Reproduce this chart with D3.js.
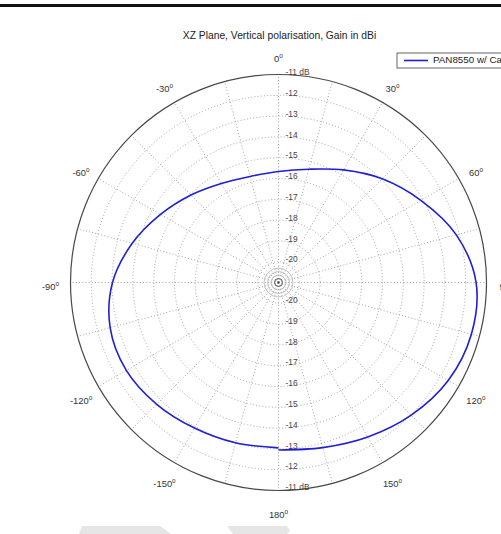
<!DOCTYPE html>
<html>
<head>
<meta charset="utf-8">
<script src="https://cdn.jsdelivr.net/npm/d3@7"></script>
<style>
  html, body { margin: 0; padding: 0; background: #fff; overflow: hidden; }
  svg { display: block; font-family: "Liberation Sans", Arial, sans-serif; }
</style>
</head>
<body>
<svg id="chart" width="501" height="534"></svg>
<script>
// Measured gain pattern (dBi) in the XZ plane, vertical polarisation
const angles = [-180, -165, -150, -135, -120, -105, -90, -75, -60, -45, -30, -15,
                0, 15, 30, 45, 60, 75, 90, 105, 120, 135, 150, 165, 180];
const gain = [-13.05, -13.02, -12.92, -12.72, -12.55, -12.62, -13.02, -13.72, -14.45, -15.05, -15.5, -15.72,
              -15.66, -15.36, -14.75, -13.95, -13.1, -12.15, -11.5, -11.4, -11.58, -11.98, -12.42, -12.78, -12.95];
const seriesName = "PAN8550 w/ Cable";

// Ring levels and angular labels
const ringLevels = [-20, -19, -18, -17, -16, -15, -14, -13, -12, -11];
const ringLabels = ["-20", "-19", "-18", "-17", "-16", "-15", "-14", "-13", "-12", "-11 dB"];
const angleTicks = [0, 30, 60, 90, 120, 150, 180, -150, -120, -90, -60, -30];
const spokeAngles = d3.range(0, 360, 15);

const title = "XZ Plane, Vertical polarisation, Gain in dBi";

const svg = d3.select("#chart");
const cx = 278.5, cy = 282.5, R = 208;

// Radial scale: centre of the plot is -21 dB, outer ring is -11 dB
const r = d3.scaleLinear().domain([-21, -11]).range([0, R]);
const toRad = d => d * Math.PI / 180;

// Top rule
svg.append("rect").attr("x", 0).attr("y", 4).attr("width", 501).attr("height", 3).attr("fill", "#111");

// Light grey shapes along the bottom edge
svg.append("polygon").attr("points", "82,526 160,526 171,534 79,534").attr("fill", "#e6e6e6");
svg.append("polygon").attr("points", "227,526 287,526 290,531 287,534 233,534").attr("fill", "#e6e6e6");

// Title
svg.append("text").attr("x", cx + 1).attr("y", 39).attr("text-anchor", "middle")
  .attr("font-size", 10.3).attr("fill", "#222").text(title);

const g = svg.append("g").attr("transform", `translate(${cx},${cy})`);

// Dotted rings
g.selectAll("circle.ring").data(ringLevels.filter(v => v !== -11)).join("circle")
  .attr("class", "ring").attr("r", d => r(d))
  .attr("fill", "none").attr("stroke", "#999").attr("stroke-width", 0.9)
  .attr("stroke-dasharray", "1,2.2");

// Dotted spokes
g.selectAll("line.spoke").data(spokeAngles).join("line")
  .attr("class", "spoke")
  .attr("x1", 0).attr("y1", 0)
  .attr("x2", d => R * Math.sin(toRad(d)))
  .attr("y2", d => -R * Math.cos(toRad(d)))
  .attr("stroke", "#999").attr("stroke-width", 0.9).attr("stroke-dasharray", "1,2.2");

// Small concentric rings at the centre
[4, 7.5, 11, 14.5].forEach((rr, i) => {
  g.append("circle").attr("r", rr).attr("fill", "none")
    .attr("stroke", i === 0 ? "#555" : "#aaa").attr("stroke-width", i === 0 ? 0.9 : 0.7);
});
g.append("circle").attr("r", 1).attr("fill", "#333");

// Outer ring
g.append("circle").attr("r", r(-11)).attr("fill", "none").attr("stroke", "#484848").attr("stroke-width", 1.2);

// Ring labels along the 0° and 180° axes
const labelData = ringLevels.map((v, i) => ({ v, t: ringLabels[i] }));
g.selectAll("text.rl-top").data(labelData).join("text")
  .attr("class", "rl-top")
  .attr("x", 7).attr("y", d => -r(d.v) - 1.5)
  .attr("dominant-baseline", "middle")
  .attr("font-size", 8.4).attr("fill", "#444").text(d => d.t);
g.selectAll("text.rl-bot").data(labelData).join("text")
  .attr("class", "rl-bot")
  .attr("x", 7).attr("y", d => r(d.v) - 2.5)
  .attr("dominant-baseline", "middle")
  .attr("font-size", 8.4).attr("fill", "#444").text(d => d.t);

// Angular labels
const LR = 228;
const at = g.selectAll("text.ang").data(angleTicks).join("text")
  .attr("class", "ang")
  .attr("x", d => LR * Math.sin(toRad(d)))
  .attr("y", d => -LR * Math.cos(toRad(d)) + 5)
  .attr("text-anchor", "middle").attr("dominant-baseline", "middle")
  .attr("font-size", 9.4).attr("fill", "#333");
at.append("tspan").text(d => d);
at.append("tspan").attr("dy", -4).attr("font-size", 6.4).text("o");

// Gain pattern
const pts = angles.map((a, i) => [toRad(a), r(gain[i])]);
const line = d3.lineRadial().angle(d => d[0]).radius(d => d[1]).curve(d3.curveCatmullRom.alpha(0.5));
g.append("path").attr("d", line(pts)).attr("fill", "none")
  .attr("stroke", "#1f1fd6").attr("stroke-width", 1.6);

// Legend
const lg = svg.append("g").attr("transform", "translate(397,53)");
lg.append("rect").attr("x", 0).attr("y", 0).attr("width", 130).attr("height", 15)
  .attr("fill", "#fff").attr("stroke", "#555").attr("stroke-width", 0.9);
lg.append("line").attr("x1", 7).attr("x2", 31).attr("y1", 7.5).attr("y2", 7.5)
  .attr("stroke", "#1f1fd6").attr("stroke-width", 1.6);
lg.append("text").attr("x", 36).attr("y", 7.8).attr("dominant-baseline", "middle")
  .attr("font-size", 9.8).attr("fill", "#222").text(seriesName);
</script>
</body>
</html>
